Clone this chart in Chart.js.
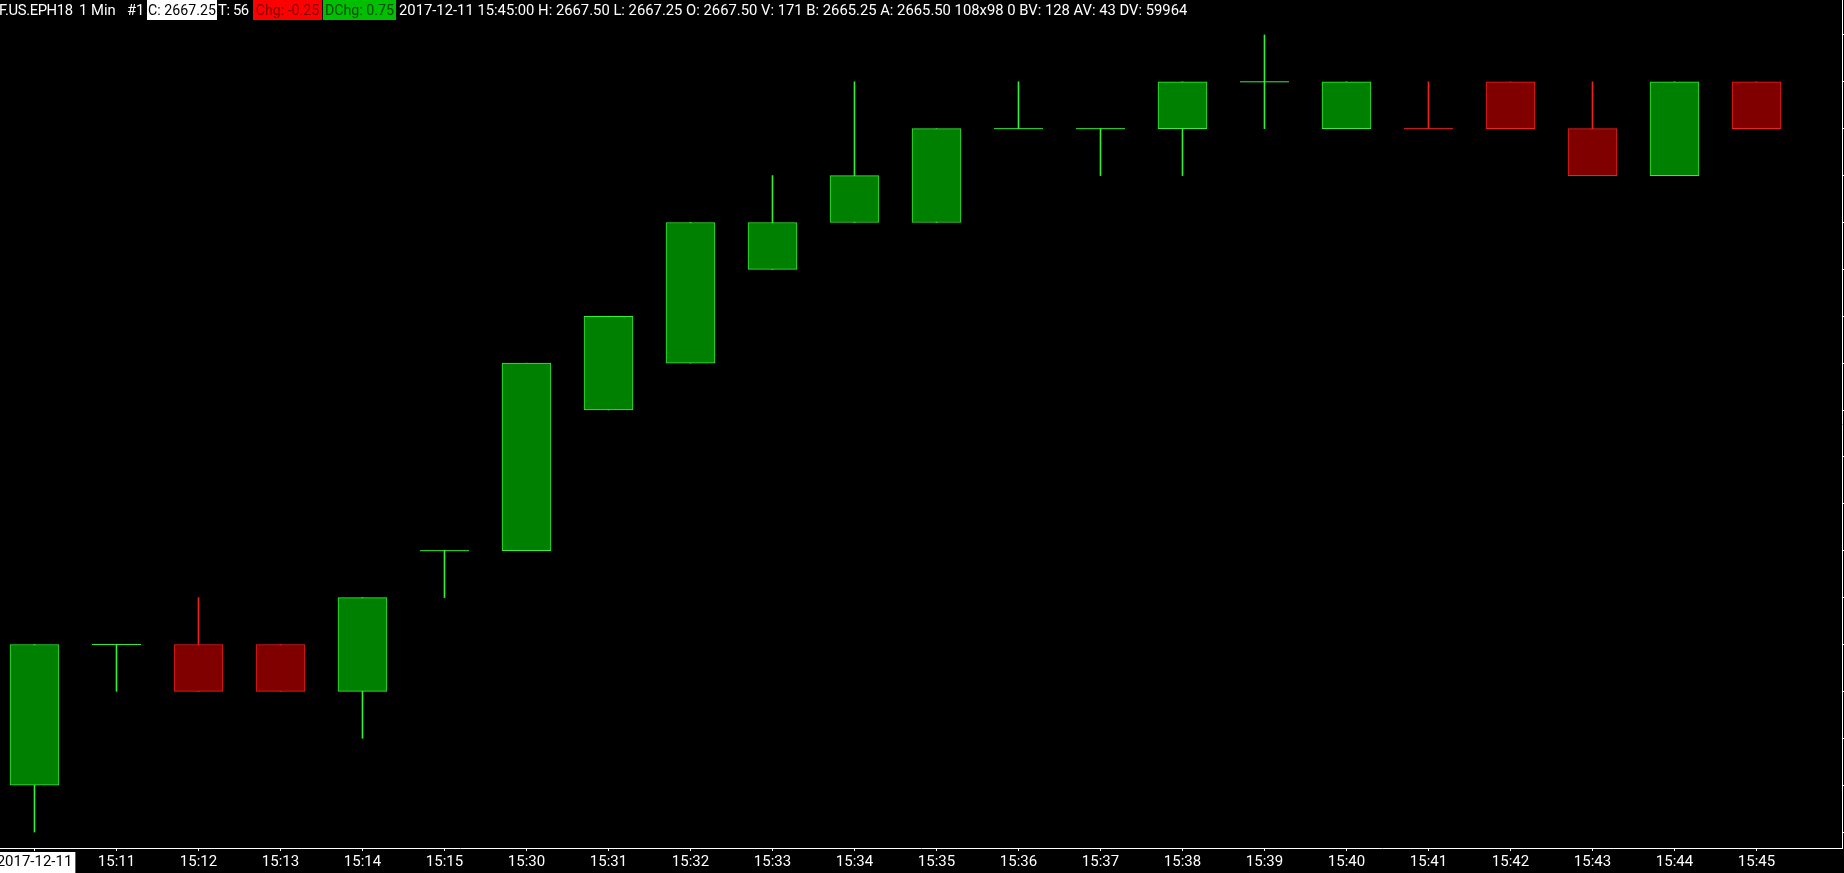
<!DOCTYPE html>
<html>
<head>
<meta charset="utf-8">
<script src="https://cdn.jsdelivr.net/npm/chart.js@4.4.1/dist/chart.umd.min.js"></script>
<style>
  html, body { margin: 0; padding: 0; background: #000; overflow: hidden; }
  #wrap { position: relative; width: 1844px; height: 873px; background: #000; }
  #c { position: absolute; left: 0; top: 0; }
  .hdr { position: absolute; top: 0; height: 20px; line-height: 20px; font-family: Roboto, "Open Sans", sans-serif;
         font-size: 14.8px; color: #fff; white-space: pre; }
  .box { text-align: center; font-size: 14.2px; }
</style>
</head>
<body>
<div id="wrap">
  <canvas id="c" width="1844" height="873"></canvas>
  <div class="hdr" style="left:-1px;letter-spacing:-0.4px">F.US.EPH18</div>
  <div class="hdr" style="left:79px">1 Min</div>
  <div class="hdr" style="left:127px">#1</div>
  <div class="hdr box" style="left:147px;width:70px;background:#fff;color:#000">C: 2667.25</div>
  <div class="hdr" style="left:218px;letter-spacing:-0.4px">T: 56</div>
  <div class="hdr box" style="left:253px;width:69px;background:#ff0000;color:#800000">Chg: -0.25</div>
  <div class="hdr box" style="left:323px;width:73px;background:#00bf00;color:#004a00">DChg: 0.75</div>
  <div class="hdr" style="left:399px">2017-12-11 15:45:00 H: 2667.50 L: 2667.25 O: 2667.50 V: 171 B: 2665.25 A: 2665.50 108x98 0 BV: 128 AV: 43 DV: 59964</div>
</div>
<script>
// ---- data ----
const labels = ['2017-12-11','15:11','15:12','15:13','15:14','15:15','15:30','15:31','15:32','15:33','15:34',
                '15:35','15:36','15:37','15:38','15:39','15:40','15:41','15:42','15:43','15:44','15:45'];
const opens  = [2663.75,2664.50,2664.50,2664.50,2664.25,2665.00,2665.00,2665.75,2666.00,2666.50,2666.75,
                2666.75,2667.25,2667.25,2667.25,2667.50,2667.25,2667.25,2667.50,2667.25,2667.00,2667.50];
const highs  = [2664.50,2664.50,2664.75,2664.50,2664.75,2665.00,2666.00,2666.25,2666.75,2667.00,2667.50,
                2667.25,2667.50,2667.25,2667.50,2667.75,2667.50,2667.50,2667.50,2667.50,2667.50,2667.50];
const lows   = [2663.50,2664.25,2664.25,2664.25,2664.00,2664.75,2665.00,2665.75,2666.00,2666.50,2666.75,
                2666.75,2667.25,2667.00,2667.00,2667.25,2667.25,2667.25,2667.25,2667.00,2667.00,2667.25];
const closes = [2664.50,2664.50,2664.25,2664.25,2664.75,2665.00,2666.00,2666.25,2666.75,2666.75,2667.00,
                2667.25,2667.25,2667.25,2667.50,2667.50,2667.50,2667.25,2667.25,2667.00,2667.50,2667.25];
const priceStep = 0.25;

// ---- styling ----
const UP_FILL = '#008000', UP_LINE = '#36ee36';
const DN_FILL = '#800000', DN_LINE = '#f02020';

const isUp = labels.map((_, i) => {
  if (closes[i] > opens[i]) return true;
  if (closes[i] < opens[i]) return false;
  return i === 0 ? true : closes[i] >= closes[i - 1];
});

const bodyData = labels.map((_, i) => ({ x: i, y: opens[i] === closes[i] ? null : [opens[i], closes[i]] }));
const wickData = labels.map((_, i) => ({ x: i, y: [lows[i], highs[i]] }));
const dojiIdx = labels.map((_, i) => i).filter(i => opens[i] === closes[i]);
const dojiData = dojiIdx.map(i => ({ x: i, y: closes[i] }));

Chart.defaults.font.family = 'Roboto, "Open Sans", sans-serif';

new Chart(document.getElementById('c'), {
  type: 'bar',
  data: {
    datasets: [
      {
        label: 'body', data: bodyData, order: 1, grouped: false, barThickness: 49,
        backgroundColor: labels.map((_, i) => isUp[i] ? UP_FILL : DN_FILL),
        borderColor: labels.map((_, i) => isUp[i] ? UP_LINE : DN_LINE),
        borderWidth: 1, borderSkipped: false
      },
      {
        label: 'wick', data: wickData, order: 3, grouped: false, barThickness: 1,
        backgroundColor: labels.map((_, i) => isUp[i] ? UP_LINE : DN_LINE),
        borderWidth: 0
      },
      {
        type: 'line', label: 'doji', data: dojiData, order: 0, showLine: false,
        pointStyle: 'line', pointRadius: 24.5, pointBorderWidth: 1,
        pointBorderColor: dojiIdx.map(i => isUp[i] ? UP_LINE : DN_LINE),
        pointBackgroundColor: dojiIdx.map(i => isUp[i] ? UP_LINE : DN_LINE)
      }
    ]
  },
  options: {
    responsive: false, animation: false, devicePixelRatio: 1, events: [],
    layout: { padding: 0, autoPadding: false },
    plugins: { legend: { display: false }, tooltip: { enabled: false } },
    scales: {
      x: {
        type: 'linear', position: 'bottom', offset: false,
        min: -0.420732, max: 22.042683,
        afterBuildTicks: s => { s.ticks = labels.map((_, i) => ({ value: i })); },
        afterFit: s => { s.paddingLeft = 0; s.paddingRight = 0; },
        grid: { display: true, offset: false, drawOnChartArea: false, drawTicks: true, tickLength: 3, color: '#ffffff' },
        border: { display: true, color: '#ffffff', width: 1 },
        ticks: {
          autoSkip: false, maxRotation: 0, padding: 2,
          font: { size: 15, family: '"Liberation Sans Narrow", Roboto, sans-serif', lineHeight: 1.2 },
          color: c => c.index === 0 ? '#000000' : '#ffffff',
          showLabelBackdrop: c => c.index === 0,
          backdropColor: '#ffffff',
          backdropPadding: { left: 3, right: 3, top: 1, bottom: 4 },
          callback: v => labels[v]
        }
      },
      y: {
        type: 'linear', position: 'right',
        min: 2663.41489, max: 2667.93617,
        afterFit: s => { s.width = 2; },
        ticks: { display: false, stepSize: priceStep, includeBounds: false },
        grid: { display: true, drawOnChartArea: false, drawTicks: true, tickLength: 2, color: '#ffffff' },
        border: { display: true, color: '#ffffff', width: 1 }
      }
    }
  }
});
</script>
</body>
</html>
